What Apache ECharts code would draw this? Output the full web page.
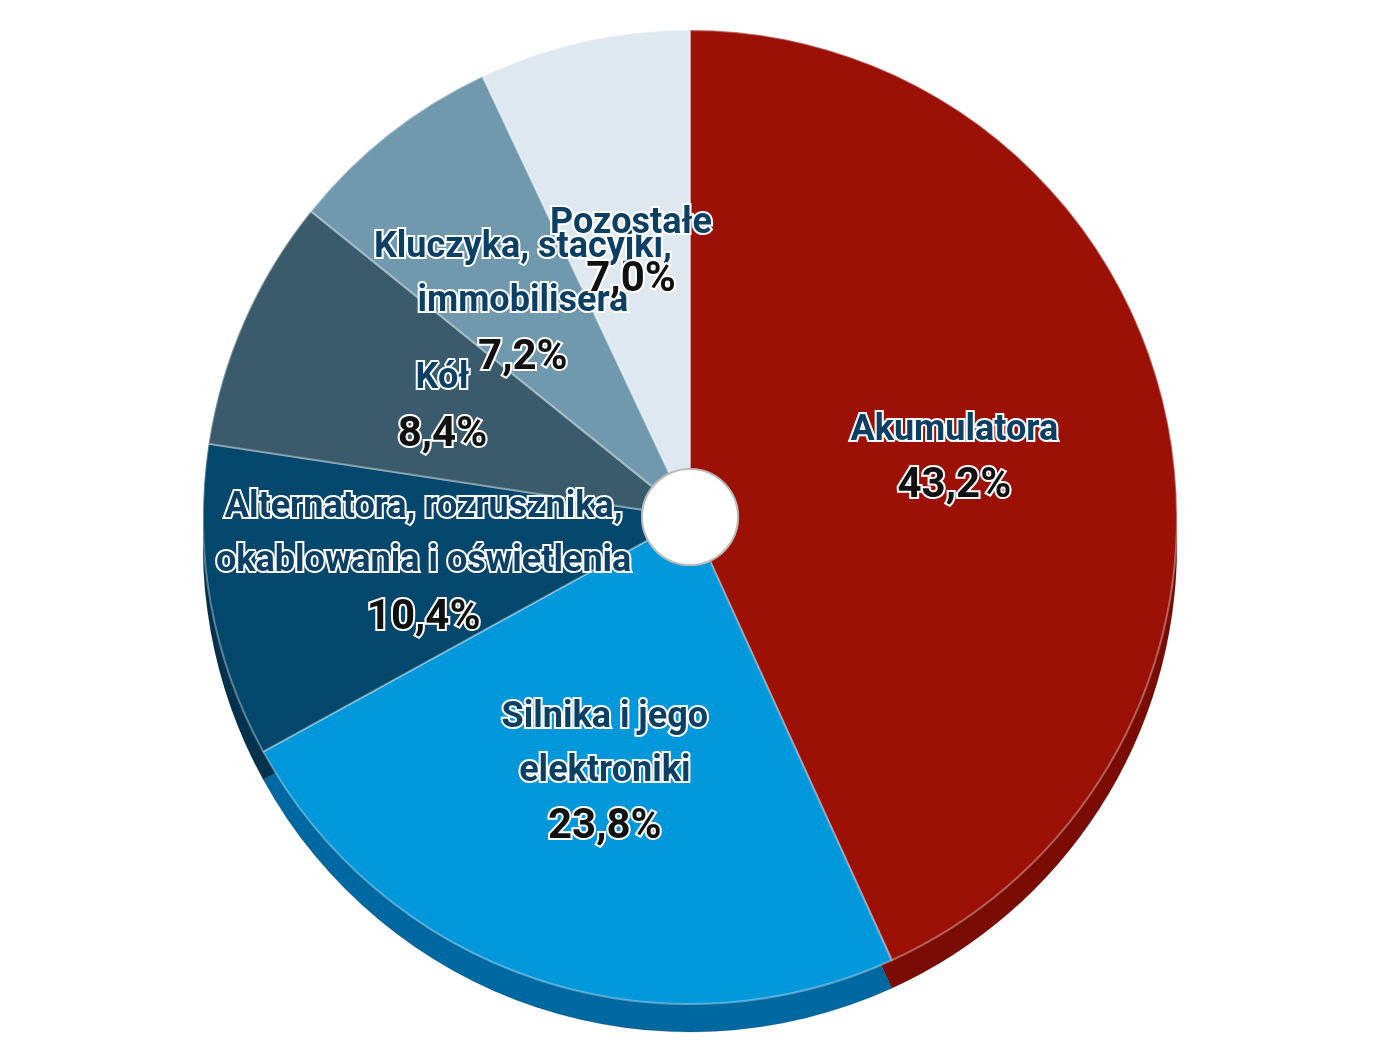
<!DOCTYPE html>
<html>
<head>
<meta charset="utf-8">
<script src="https://cdn.jsdelivr.net/npm/echarts@6/dist/echarts.min.js"></script>
<style>html,body{margin:0;background:#fff}#charts{width:1390px;height:1050px}</style>
</head>
<body>
<div id="charts"></div>
<script>
var names = ['Akumulatora', 'Silnika i jego\nelektroniki', 'Alternatora, rozrusznika,\nokablowania i oświetlenia', 'Kół', 'Kluczyka, stacyjki,\nimmobilisera', 'Pozostałe'];
var values = [43.2, 23.8, 10.4, 8.4, 7.2, 7.0];
var colors = ['#9b1106', '#0097db', '#03476c', '#3a5b6c', '#7199ae', '#dde8f0'];
var sideColors = ['#7a0c04', '#0068a0', '#02324d', '#2a424f', '#56778a', '#b9c8d3'];

var chartDom = document.getElementById('charts');
var myChart = echarts.init(chartDom);
var font = "'Liberation Sans Narrow', 'Roboto', 'Liberation Sans', sans-serif";

var topData = names.map(function (n, i) {
  return { name: n, value: values[i], itemStyle: { color: colors[i] } };
});
var sideData = names.map(function (n, i) {
  return { name: n, value: values[i], itemStyle: { color: sideColors[i] } };
});

var option = {
  series: [
    {
      type: 'pie',
      silent: true,
      center: [690, 545],
      radius: [0, 487],
      startAngle: 90,
      data: sideData,
      label: { show: false },
      itemStyle: { borderColor: 'rgba(0,0,0,0.15)', borderWidth: 1 }
    },
    {
      type: 'pie',
      center: [690, 517],
      radius: [48, 487],
      startAngle: 90,
      data: topData,
      itemStyle: { borderColor: 'rgba(255,255,255,0.35)', borderWidth: 2 },
      labelLayout: { hideOverlap: false },
      label: {
        show: true,
        position: 'inside',
        fontFamily: font,
        fontWeight: 'bold',
        formatter: function (p) {
          return '{n|' + p.name.split('\n').join('}\n{n|') + '}\n{v|' + p.value.toFixed(1).replace('.', ',') + '%}';
        },
        rich: {
          n: { fontSize: 36, color: '#0b3f63', fontFamily: font, fontWeight: 'bold', textBorderColor: '#fff', textBorderWidth: 4, lineHeight: 54, letterSpacing: -1 },
          v: { fontSize: 42, color: '#111', fontFamily: font, fontWeight: 'bold', textBorderColor: '#fff', textBorderWidth: 4, lineHeight: 58, letterSpacing: -1 }
        }
      },
      labelLine: { show: false }
    },
    {
      type: 'pie',
      silent: true,
      center: [690, 517],
      radius: [0, 48],
      data: [{ value: 1, name: '', itemStyle: { color: '#fff', borderColor: '#bbb', borderWidth: 2 } }],
      label: { show: false }
    }
  ]
};

option && myChart.setOption(option);
</script>
</body>
</html>
